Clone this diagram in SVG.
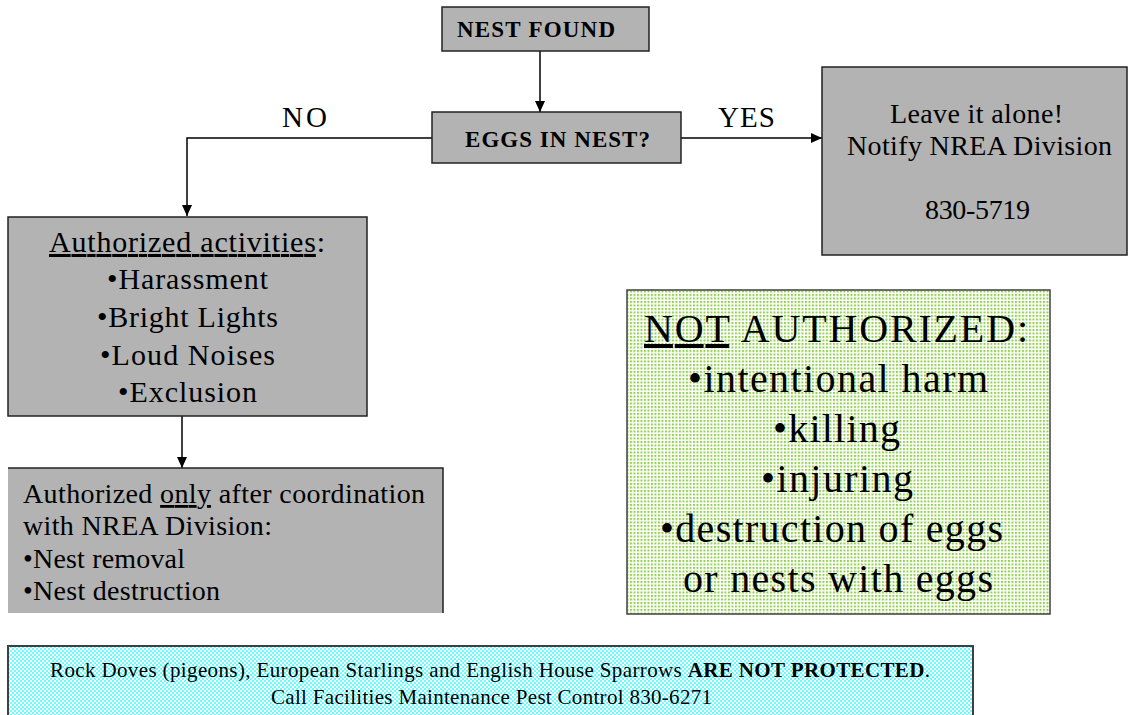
<svg xmlns="http://www.w3.org/2000/svg" width="1128" height="715" viewBox="0 0 1128 715" font-family="'Liberation Serif', 'Times New Roman', serif">
  <style>
    text { font-family: 'Liberation Serif', 'Times New Roman', serif; fill: #000; }
    .box { fill: #b3b3b3; stroke: #222; stroke-width: 1.5; }
    .b { font-weight: bold; }
    .wire { fill: none; stroke: #000; stroke-width: 1.5; }
    .u { text-decoration: underline; }
  </style>
  <defs>
    <marker id="arrow" markerUnits="userSpaceOnUse" markerWidth="11" markerHeight="10" refX="11" refY="5" orient="auto">
      <path d="M0,0 L11,5 L0,10 z" fill="#000"/>
    </marker>
    <pattern id="greenDots" patternUnits="userSpaceOnUse" width="3.5" height="3.5">
      <rect width="3.5" height="3.5" fill="#fff"/>
      <rect width="2" height="2" fill="#92d050"/>
    </pattern>
    <pattern id="cyanDots" patternUnits="userSpaceOnUse" width="4" height="4">
      <rect width="4" height="4" fill="#fff"/>
      <rect width="2" height="2" fill="#66ffff"/>
      <rect x="2" y="2" width="2" height="2" fill="#66ffff"/>
    </pattern>
  </defs>

  <!-- connectors and their labels -->
  <g id="connectors">
    <line class="wire" x1="540" y1="51" x2="540" y2="112" marker-end="url(#arrow)"/>
    <polyline class="wire" points="432,138 187,138 187,216" marker-end="url(#arrow)"/>
    <line class="wire" x1="681" y1="138" x2="822" y2="138" marker-end="url(#arrow)"/>
    <line class="wire" x1="182" y1="416" x2="182" y2="468" marker-end="url(#arrow)"/>
    <text x="282" y="127" font-size="29" textLength="45">NO</text>
    <text x="718" y="127" font-size="29" textLength="57">YES</text>
  </g>

  <g id="nest-found">
    <rect class="box" x="442" y="7" width="207" height="44"/>
    <text class="b" x="457" y="37" font-size="23" textLength="158">NEST FOUND</text>
  </g>

  <g id="eggs-in-nest">
    <rect class="box" x="432" y="112" width="249" height="51"/>
    <text class="b" x="465" y="147" font-size="23" textLength="185">EGGS IN NEST?</text>
  </g>

  <g id="leave-alone">
    <rect class="box" x="822" y="67" width="305" height="188"/>
    <text x="890" y="123" font-size="28" textLength="173">Leave it alone!</text>
    <text x="847" y="155" font-size="28" textLength="265">Notify NREA Division</text>
    <text x="925" y="219" font-size="28" textLength="105">830-5719</text>
  </g>

  <g id="authorized">
    <rect class="box" x="8" y="217" width="359" height="199"/>
    <text x="49" y="252" font-size="30" textLength="276"><tspan class="u">Authorized activities</tspan>:</text>
    <text x="107" y="289" font-size="30" textLength="161">•Harassment</text>
    <text x="97" y="327" font-size="30" textLength="181">•Bright Lights</text>
    <text x="100" y="365" font-size="30" textLength="175">•Loud Noises</text>
    <text x="118" y="402" font-size="30" textLength="139">•Exclusion</text>
  </g>

  <g id="after-coordination">
    <rect x="8" y="468" width="435" height="145" fill="#b3b3b3"/>
    <path d="M8,468 H443 V613" fill="none" stroke="#222" stroke-width="1.5"/>
    <text x="23" y="503" font-size="28" textLength="402">Authorized <tspan class="u">only</tspan> after coordination</text>
    <text x="23" y="535" font-size="28" textLength="249">with NREA Division:</text>
    <text x="23" y="568" font-size="28" textLength="162">•Nest removal</text>
    <text x="23" y="600" font-size="28" textLength="197">•Nest destruction</text>
  </g>

  <g id="not-authorized">
    <rect x="627" y="290" width="423" height="324" fill="url(#greenDots)" stroke="#404040" stroke-width="1.5"/>
    <text x="644" y="342" font-size="40" textLength="384"><tspan class="u">NOT</tspan> AUTHORIZED:</text>
    <text x="688" y="392" font-size="40" textLength="300">•intentional harm</text>
    <text x="773" y="442" font-size="40" textLength="127">•killing</text>
    <text x="761" y="492" font-size="40" textLength="152">•injuring</text>
    <text x="660" y="542" font-size="40" textLength="343">•destruction of eggs</text>
    <text x="683" y="592" font-size="40" textLength="310">or nests with eggs</text>
  </g>

  <g id="not-protected">
    <rect x="8" y="646" width="965" height="80" fill="url(#cyanDots)" stroke="#404040" stroke-width="2"/>
    <text x="50" y="677" font-size="21" textLength="880">Rock Doves (pigeons), European Starlings and English House Sparrows <tspan class="b">ARE NOT PROTECTED</tspan>.</text>
    <text x="271" y="704" font-size="21" textLength="441">Call Facilities Maintenance Pest Control 830-6271</text>
  </g>
</svg>
